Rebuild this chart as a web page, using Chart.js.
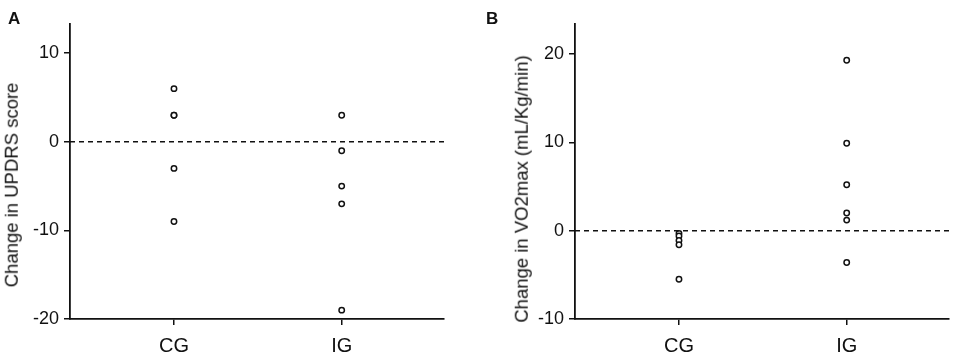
<!DOCTYPE html>
<html>
<head>
<meta charset="utf-8">
<script src="https://cdn.jsdelivr.net/npm/chart.js@4.4.0/dist/chart.umd.min.js"></script>
<style>
  body { margin: 0; background: #fff; }
  #wrap { position: relative; width: 957px; height: 356px; }
  canvas { position: absolute; top: 0; }
  .panel { position: absolute; font: bold 17px "Liberation Sans", Arial, sans-serif; color: #111; line-height: 1; }
  .ytitle { position: absolute; font: 18.5px "Liberation Sans", Arial, sans-serif; color: #111; line-height: 1;
            white-space: nowrap; transform: translate(-50%, -50%) rotate(-90deg); }
</style>
</head>
<body>
<div id="wrap">
  <canvas id="chartA" width="478" height="356" style="left:0"></canvas>
  <canvas id="chartB" width="479" height="356" style="left:478px"></canvas>
  <div class="panel" style="left:8px; top:10px">A</div>
  <div class="panel" style="left:486px; top:10px">B</div>
  <div class="ytitle" style="left:12px; top:185px">Change in UPDRS score</div>
  <div class="ytitle" style="left:522px; top:189px">Change in VO2max (mL/Kg/min)</div>
</div>
<script>
// groups on the x axis
const categories = ['CG', 'IG'];

// panel A: change in UPDRS score
const cgUpdrs = [6, 3, 3, -3, -9];
const igUpdrs = [3, -1, -5, -7, -19];
const updrsTicks = [-20, -10, 0, 10];

// panel B: change in VO2max
const cgVo2 = [-0.3, -0.6, -1.1, -1.6, -5.5];
const igVo2 = [19.3, 9.9, 5.2, 2.0, 1.2, -3.6];
const vo2Ticks = [-10, 0, 10, 20];

const font = "'Liberation Sans', Arial, sans-serif";
Chart.defaults.font.family = font;
Chart.defaults.color = '#111';

function toPoints(group, values) {
    return values.map(v => ({ x: categories.indexOf(group) + 1, y: v }));
}

function makeChart(id, cg, ig, yTicks, yMin, yMax, pad, yWidth) {
    const xMin = 0.38, xMax = 2.61;
    let ctx = document.getElementById(id).getContext('2d');
    return new Chart(ctx, {
        type: 'scatter',
        data: {
            datasets: [{
                type: 'line',
                data: [{ x: xMin, y: 0 }, { x: xMax, y: 0 }],
                borderColor: '#111',
                borderWidth: 1.5,
                borderDash: [5, 4],
                pointRadius: 0,
                fill: false
            },
            {
                data: toPoints('CG', cg).concat(toPoints('IG', ig)),
                pointRadius: 2.7,
                pointBorderWidth: 1.5,
                pointBorderColor: '#111',
                pointBackgroundColor: '#fff'
            }]
        },
        options: {
            responsive: false,
            animation: false,
            layout: { padding: pad },
            plugins: { legend: { display: false }, tooltip: { enabled: false } },
            scales: {
                x: {
                    type: 'linear',
                    min: xMin,
                    max: xMax,
                    afterBuildTicks: s => { s.ticks = [1, 2].map(v => ({ value: v })); },
                    afterFit: s => { s.height = 37; },
                    ticks: {
                        callback: v => categories[v - 1],
                        font: { size: 20 },
                        padding: 9,
                        autoSkip: false,
                        maxRotation: 0
                    },
                    grid: { drawOnChartArea: false, drawTicks: true, tickLength: 6, color: '#111', lineWidth: 1.5 },
                    border: { display: true, color: '#111', width: 1.8 }
                },
                y: {
                    min: yMin,
                    max: yMax,
                    afterBuildTicks: s => { s.ticks = yTicks.map(v => ({ value: v })); },
                    afterFit: s => { s.width = yWidth; },
                    ticks: { font: { size: 18 }, padding: 5 },
                    grid: { drawOnChartArea: false, drawTicks: true, tickLength: 6, color: '#111', lineWidth: 1.5 },
                    border: { display: true, color: '#111', width: 1.8 }
                }
            }
        }
    });
}

makeChart('chartA', cgUpdrs, igUpdrs, updrsTicks, -20, 13.3,
    { top: 24, left: 0, right: 34, bottom: 0 }, 70);
makeChart('chartB', cgVo2, igVo2, vo2Ticks, -10, 23.4,
    { top: 24, left: 32, right: 8, bottom: 0 }, 65);
</script>
</body>
</html>
